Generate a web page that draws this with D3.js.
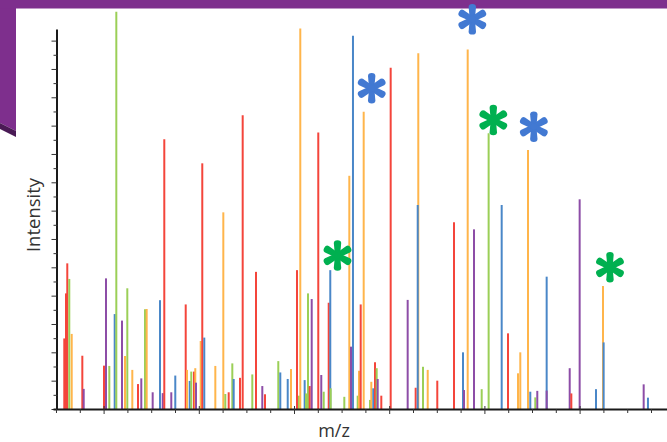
<!DOCTYPE html>
<html>
<head>
<meta charset="utf-8">
<script src="https://cdn.jsdelivr.net/npm/d3@7"></script>
<style>
  html, body { margin: 0; padding: 0; background: #fff; }
  svg { display: block; }
</style>
</head>
<body>
<svg id="chart" width="667" height="442"></svg>
<script>
// peaks: m/z, relative intensity, colour series
const peakMz = [
  217.4, 221.0, 223.7, 227.9, 233.0, 255.3, 258.2, 300.8, 305.0, 312.0,
  323.3, 326.7, 338.7, 345.0, 349.8, 360.3, 372.3, 379.2, 387.0, 390.5,
  403.1, 418.5, 424.2, 427.5, 442.2, 450.6, 472.5, 475.2, 480.9, 484.2,
  489.9, 492.6, 494.1, 504.0, 507.3, 511.5, 534.7, 551.5, 555.7, 562.8,
  570.4, 573.3, 586.5, 592.2, 612.4, 620.2, 633.4, 639.1, 667.0, 671.2,
  686.8, 693.7, 706.3, 710.5, 713.2, 722.4, 725.2, 729.4, 733.0, 737.2,
  751.0, 757.3, 762.4, 772.9, 776.2, 777.1, 805.7, 816.2, 819.7, 823.9,
  833.8, 836.5, 840.1, 846.4, 859.7, 862.4, 866.6, 870.2, 873.7, 875.8,
  883.4, 903.1, 938.8, 955.6, 961.1, 959.9, 971.0, 980.9, 1001.0, 1036.1,
  1055.0, 1057.1, 1064.9, 1078.1, 1094.3, 1108.9, 1136.3, 1149.6, 1170.6, 1175.4,
  1191.6, 1196.4, 1206.9, 1211.1, 1230.8, 1230.8, 1279.2, 1282.6, 1300.1, 1334.4,
  1349.1, 1350.5, 1434.6, 1443.6
];
const peakIntensity = [
  24.9, 40.8, 51.4, 45.9, 26.5, 18.8, 7.1, 15.3, 46.1, 15.2,
  33.5, 140.2, 31.2, 18.7, 42.6, 13.8, 8.8, 10.8, 35.2, 35.3,
  5.9, 38.4, 5.6, 95.2, 5.9, 11.8, 36.9, 13.8, 9.9, 13.2,
  13.2, 14.4, 9.3, 24.0, 86.7, 25.2, 15.2, 69.4, 5.3, 5.9,
  16.1, 10.6, 11.0, 103.7, 12.2, 48.4, 8.1, 5.2, 16.9, 12.9,
  10.6, 14.1, 49.0, 4.7, 134.3, 10.2, 5.5, 40.8, 8.1, 38.8,
  97.6, 12.0, 6.1, 37.5, 49.0, 7.3, 4.3, 82.3, 22.0, 131.7,
  4.7, 13.5, 36.9, 104.9, 3.2, 9.6, 7.3, 16.5, 14.4, 10.6,
  4.7, 120.4, 38.5, 7.5, 125.5, 72.0, 14.9, 13.8, 10.0, 65.9,
  20.0, 6.7, 126.9, 63.4, 7.0, 97.3, 72.0, 26.7, 12.6, 20.0,
  91.4, 6.1, 4.1, 6.4, 46.7, 6.5, 14.4, 5.5, 74.0, 7.0,
  43.4, 23.5, 8.7, 4.0
];
const peakSeries = [
  "R","R","R","G","O","R","P","R","P","G",
  "B","G","P","O","G","O","R","P","G","O",
  "P","B","P","R","P","B","R","O","B","G",
  "R","O","P","O","R","B","O","O","G","R",
  "G","B","R","R","G","R","P","R","G","B",
  "B","O","R","G","O","B","G","G","R","P",
  "R","P","G","R","B","G","G","O","P","B",
  "G","O","R","O","G","O","B","R","G","P",
  "R","R","P","R","O","B","G","O","R","R",
  "B","P","O","P","G","G","B","R","O","O",
  "O","B","G","P","B","P","P","R","P","B",
  "O","B","P","B"
];
const seriesKeys = ["R", "O", "G", "B", "P"];
const seriesColors = ["#f4453b", "#ffb54b", "#9bcf57", "#4a87c8", "#8d4da7"];

// asterisk annotations
const starMz = [863.2, 1074.6, 1118.7, 1203.8, 791.4, 1363.8];
const starIntensity = [113.2, 137.5, 102.0, 99.6, 54.2, 50.0];
const starColor = ["#4279d2", "#4279d2", "#00b050", "#4279d2", "#00b050", "#00b050"];

const xTicks = d3.range(200, 1451, 50);
const yTicks = d3.range(0, 131, 5);

const svg = d3.select("#chart");

// slide decoration behind the pasted chart
svg.append("polygon").attr("points", "0,0 16,0 16,131 0,123").attr("fill", "#7e2f8d");
svg.append("polygon").attr("points", "0,123 16,131 16,137 0,129").attr("fill", "#4a1a55");
svg.append("rect").attr("x", 0).attr("y", 0).attr("width", 667).attr("height", 8.5).attr("fill", "#7e2f8d");

const x = d3.scaleLinear().domain([193.7, 1483.6]).range([53, 667]);
const y = d3.scaleLinear().domain([0, 134.1]).range([409, 29]);
const color = d3.scaleOrdinal().domain(seriesKeys).range(seriesColors);

const peaks = peakMz.map((mz, i) => ({ mz, value: peakIntensity[i], series: peakSeries[i] }));

svg.append("g")
  .selectAll("line")
  .data(peaks)
  .join("line")
  .attr("x1", d => x(d.mz))
  .attr("x2", d => x(d.mz))
  .attr("y1", y(0))
  .attr("y2", d => y(d.value))
  .attr("stroke", d => color(d.series))
  .attr("stroke-width", 2);

// y axis
const yAxis = svg.append("g")
  .attr("transform", "translate(56.5,0)")
  .call(d3.axisLeft(y).tickValues(yTicks).tickSize(4).tickSizeOuter(0).tickFormat(""));
yAxis.select(".domain").attr("stroke", "#1a1a1a").attr("stroke-width", 2);
yAxis.selectAll(".tick line")
  .attr("stroke", "#333")
  .attr("x2", d => (d % 10 === 0 ? -5 : -3))
  .attr("x1", d => (d % 10 === 0 ? 0 : 1));

// x axis
const xAxis = svg.append("g")
  .attr("transform", "translate(0,409)")
  .call(d3.axisBottom(x).tickValues(xTicks).tickSize(4).tickSizeOuter(0).tickFormat(""));
xAxis.select(".domain").attr("stroke", "#1a1a1a").attr("stroke-width", 2);
xAxis.selectAll(".tick line")
  .attr("stroke", "#333")
  .attr("y1", d => ((d - 300) % 200 === 0 ? -3 : 0))
  .attr("y2", d => ((d - 300) % 200 === 0 ? 5 : 4));

// axis titles
svg.append("text")
  .attr("transform", "translate(39.5,215) rotate(-90)")
  .attr("text-anchor", "middle")
  .attr("font-family", "Open Sans, sans-serif")
  .attr("font-size", 18.5)
  .attr("fill", "#333")
  .text("Intensity");

svg.append("text")
  .attr("x", 334)
  .attr("y", 437)
  .attr("text-anchor", "middle")
  .attr("font-family", "Open Sans, sans-serif")
  .attr("font-size", 18)
  .attr("fill", "#333")
  .text("m/z");

// asterisks: six tapered spokes
const R = 16, w0 = 2.6, w1 = 3.7;
const spoke = `M${-w0},0 L${-w1},${-R + w1} A${w1},${w1 * 0.8} 0 0 1 ${w1},${-R + w1} L${w0},0 Z`;
const stars = starMz.map((mz, i) => ({ mz, value: starIntensity[i], color: starColor[i] }));

const starG = svg.append("g")
  .selectAll("g")
  .data(stars)
  .join("g")
  .attr("transform", d => `translate(${x(d.mz)},${y(d.value)})`)
  .attr("fill", d => d.color);

starG.selectAll("path")
  .data(d3.range(6))
  .join("path")
  .attr("d", spoke)
  .attr("transform", k => `rotate(${k * 60})`);
starG.append("circle").attr("r", 3.2);
</script>
</body>
</html>
